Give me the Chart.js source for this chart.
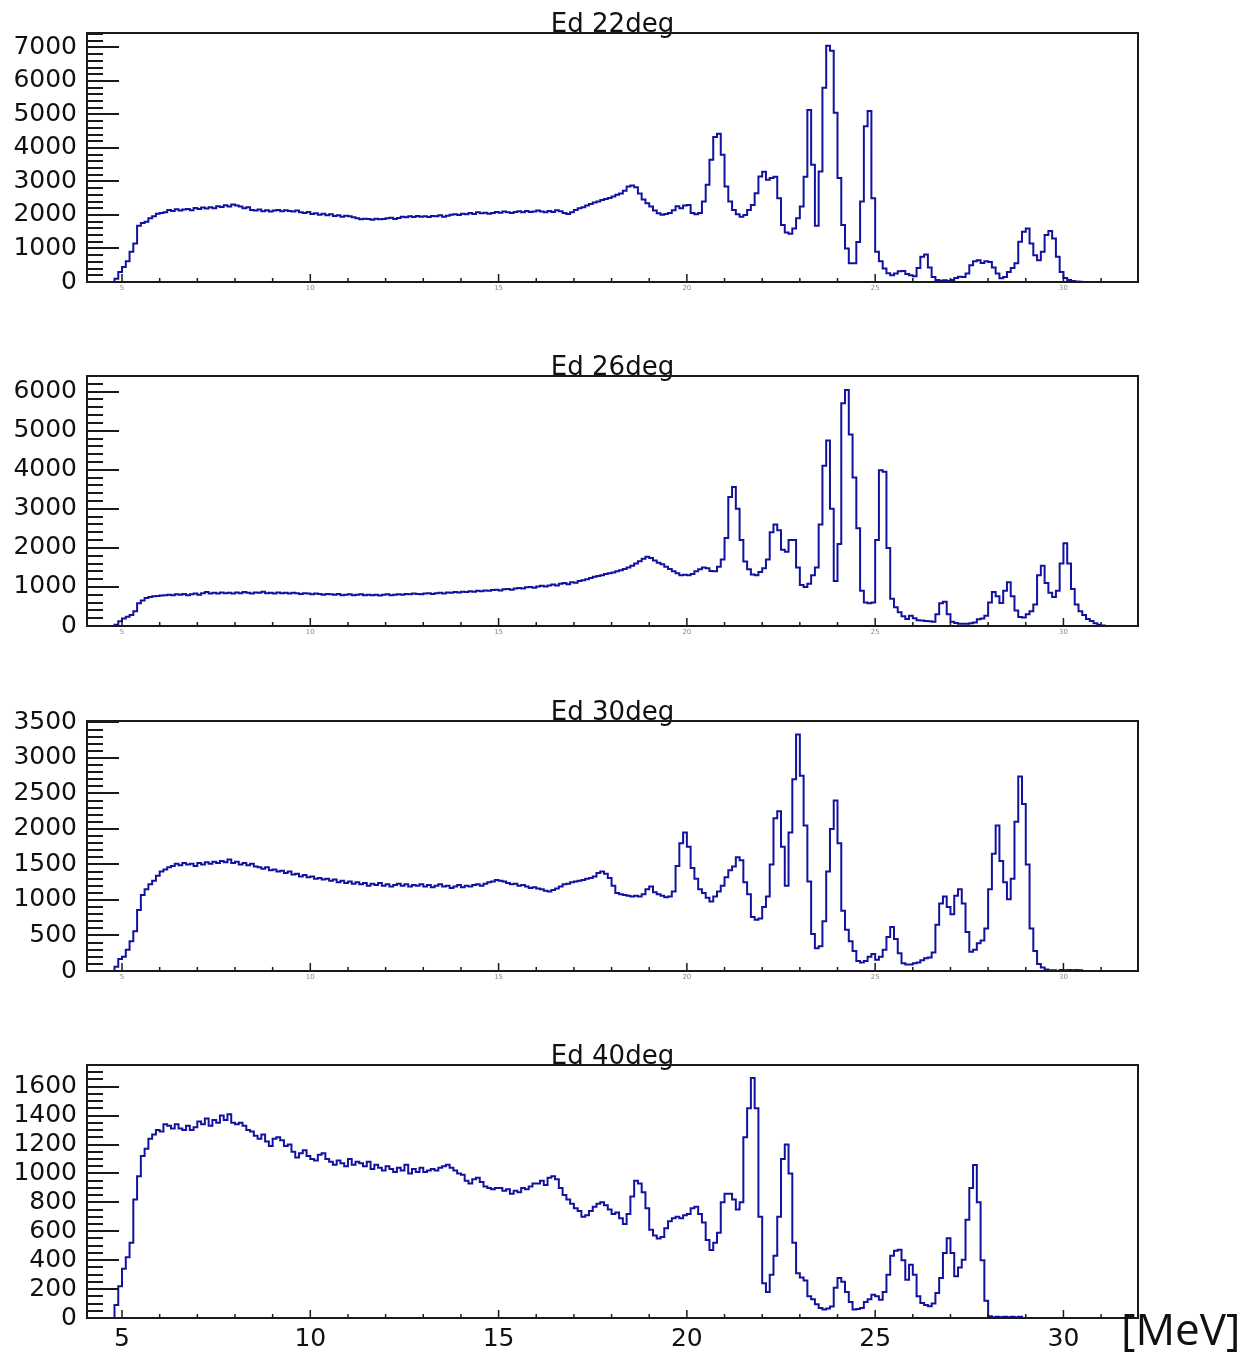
<!DOCTYPE html>
<html>
<head>
<meta charset="utf-8">
<script src="https://cdn.jsdelivr.net/npm/chart.js@4.4.1/dist/chart.umd.min.js"></script>
<style>
html, body { margin: 0; padding: 0; background: #ffffff; width: 1258px; height: 1356px; overflow: hidden; }
body { position: relative; }
canvas { position: absolute; left: 0; }
</style>
</head>
<body>
<canvas id="c22" width="1258" height="315" style="top:-8px"></canvas>
<canvas id="c26" width="1258" height="316" style="top:335px"></canvas>
<canvas id="c30" width="1258" height="316" style="top:680px"></canvas>
<canvas id="c40" width="1258" height="332" style="top:1024px"></canvas>
<script>
// ---------- DATA ----------
// Bin edges in MeV (bin i spans energyEdgesMeV[i] .. energyEdgesMeV[i+1])
const energyEdgesMeV = [
  4.7, 4.8, 4.9,
  5.0, 5.1, 5.2, 5.3, 5.4, 5.5, 5.6, 5.7, 5.8, 5.9,
  6.0, 6.1, 6.2, 6.3, 6.4, 6.5, 6.6, 6.7, 6.8, 6.9,
  7.0, 7.1, 7.2, 7.3, 7.4, 7.5, 7.6, 7.7, 7.8, 7.9,
  8.0, 8.1, 8.2, 8.3, 8.4, 8.5, 8.6, 8.7, 8.8, 8.9,
  9.0, 9.1, 9.2, 9.3, 9.4, 9.5, 9.6, 9.7, 9.8, 9.9,
  10.0, 10.1, 10.2, 10.3, 10.4, 10.5, 10.6, 10.7, 10.8, 10.9,
  11.0, 11.1, 11.2, 11.3, 11.4, 11.5, 11.6, 11.7, 11.8, 11.9,
  12.0, 12.1, 12.2, 12.3, 12.4, 12.5, 12.6, 12.7, 12.8, 12.9,
  13.0, 13.1, 13.2, 13.3, 13.4, 13.5, 13.6, 13.7, 13.8, 13.9,
  14.0, 14.1, 14.2, 14.3, 14.4, 14.5, 14.6, 14.7, 14.8, 14.9,
  15.0, 15.1, 15.2, 15.3, 15.4, 15.5, 15.6, 15.7, 15.8, 15.9,
  16.0, 16.1, 16.2, 16.3, 16.4, 16.5, 16.6, 16.7, 16.8, 16.9,
  17.0, 17.1, 17.2, 17.3, 17.4, 17.5, 17.6, 17.7, 17.8, 17.9,
  18.0, 18.1, 18.2, 18.3, 18.4, 18.5, 18.6, 18.7, 18.8, 18.9,
  19.0, 19.1, 19.2, 19.3, 19.4, 19.5, 19.6, 19.7, 19.8, 19.9,
  20.0, 20.1, 20.2, 20.3, 20.4, 20.5, 20.6, 20.7, 20.8, 20.9,
  21.0, 21.1, 21.2, 21.3, 21.4, 21.5, 21.6, 21.7, 21.8, 21.9,
  22.0, 22.1, 22.2, 22.3, 22.4, 22.5, 22.6, 22.7, 22.8, 22.9,
  23.0, 23.1, 23.2, 23.3, 23.4, 23.5, 23.6, 23.7, 23.8, 23.9,
  24.0, 24.1, 24.2, 24.3, 24.4, 24.5, 24.6, 24.7, 24.8, 24.9,
  25.0, 25.1, 25.2, 25.3, 25.4, 25.5, 25.6, 25.7, 25.8, 25.9,
  26.0, 26.1, 26.2, 26.3, 26.4, 26.5, 26.6, 26.7, 26.8, 26.9,
  27.0, 27.1, 27.2, 27.3, 27.4, 27.5, 27.6, 27.7, 27.8, 27.9,
  28.0, 28.1, 28.2, 28.3, 28.4, 28.5, 28.6, 28.7, 28.8, 28.9,
  29.0, 29.1, 29.2, 29.3, 29.4, 29.5, 29.6, 29.7, 29.8, 29.9,
  30.0, 30.1, 30.2, 30.3, 30.4, 30.5, 30.6, 30.7, 30.8, 30.9,
  31.0, 31.1, 31.2, 31.3
];

const countsEd22 = [
  0, 100, 300,
  450, 620, 900, 1150, 1680, 1760, 1800, 1900, 1960, 2040,
  2060, 2080, 2150, 2120, 2170, 2130, 2160, 2180, 2140, 2210,
  2180, 2220, 2190, 2230, 2200, 2260, 2240, 2290, 2250, 2310,
  2280, 2250, 2200, 2230, 2150, 2130, 2160, 2110, 2140, 2100,
  2130, 2150, 2110, 2140, 2120, 2100, 2130, 2080, 2060, 2090,
  2030, 2050, 2010, 2040, 1990, 2020, 1970, 1990, 1950, 1980,
  1960, 1930, 1900, 1870, 1890, 1880, 1860, 1890, 1870, 1880,
  1900, 1920, 1880, 1910, 1950, 1930, 1960, 1940, 1970, 1950,
  1960, 1940, 1970, 1960, 1990, 1950, 1980, 2010, 2020, 2000,
  2040, 2020, 2060, 2030, 2080, 2050, 2070, 2040, 2060, 2090,
  2070, 2100, 2080, 2060, 2090, 2110, 2080, 2120, 2090, 2100,
  2130, 2100, 2080, 2120, 2090, 2140, 2110, 2060, 2030, 2080,
  2150, 2200, 2230, 2280, 2330, 2370, 2400, 2450, 2480, 2510,
  2550, 2600, 2640, 2720, 2850, 2880, 2830, 2640, 2460, 2350,
  2250, 2130, 2050, 2010, 2030, 2060, 2140, 2260, 2200, 2280,
  2300, 2060, 2020, 2060, 2400, 2900, 3650, 4330, 4420, 3800,
  2850, 2400, 2150, 2020, 1950, 2000, 2150, 2300, 2650, 3150,
  3290, 3050, 3100, 3140, 2500, 1700, 1480, 1440, 1600, 1900,
  2250, 3140, 5130, 3500, 1680, 3300, 5800, 7050, 6900, 5050,
  3100, 1700, 1000, 560, 560, 1190, 2400, 4650, 5100, 2500,
  900, 620, 400, 260, 200, 250, 320, 330, 240, 200,
  170, 420, 750, 820, 430, 150, 60, 40, 50, 30,
  60, 120, 160, 150, 250, 500, 620, 650, 570, 620,
  600, 430, 250, 110, 150, 300, 420, 560, 1200, 1500,
  1600, 1150, 800, 650, 900, 1400, 1520, 1300, 750, 300,
  120, 60, 30, 15, 5, 0, 0, 0, 0, 0,
  0, 0, 0
];

const countsEd26 = [
  0, 30, 120,
  190, 240, 280, 380, 580, 650, 720, 740, 760, 770,
  780, 790, 800, 790, 810, 800, 820, 790, 810, 830,
  800, 840, 870, 830, 850, 830, 860, 840, 850, 830,
  860, 840, 870, 850, 830, 860, 850, 880, 840, 850,
  830, 860, 840, 850, 830, 850, 840, 820, 840, 830,
  810, 830, 820, 800, 820, 810, 800, 820, 790, 800,
  810, 790, 800, 810, 790, 800, 790, 800, 780, 800,
  810, 790, 800, 810, 800, 820, 810, 830, 820, 810,
  830, 840, 820, 840, 850, 830, 860, 850, 870, 860,
  880, 870, 890, 880, 900, 890, 910, 900, 920, 930,
  910, 940, 950, 930, 960, 970, 960, 990, 1000, 980,
  1010, 1030, 1010, 1040, 1060, 1040, 1080, 1100, 1070, 1120,
  1110, 1150, 1170, 1200, 1230, 1260, 1280, 1300, 1330, 1350,
  1370, 1400, 1430, 1460, 1500, 1540, 1600, 1660, 1720, 1770,
  1740, 1680, 1620, 1580, 1520, 1460, 1400, 1350, 1300, 1310,
  1300, 1330, 1400, 1450, 1500, 1480, 1410, 1400, 1520, 1700,
  2250, 3300, 3560, 3000, 2200, 1650, 1450, 1320, 1300, 1380,
  1480, 1700, 2400, 2600, 2450, 1950, 1900, 2200, 2200, 1500,
  1050, 1000, 1080, 1300, 1500, 2600, 4100, 4750, 3000, 1150,
  2100, 5700, 6040, 4900, 3800, 2500, 900, 600, 580, 600,
  2200, 3990, 3950, 2000, 700, 480, 350, 250, 180, 260,
  200, 150, 140, 130, 120, 110, 300, 580, 620, 300,
  110, 80, 60, 60, 60, 70, 90, 170, 190, 260,
  600, 870, 760, 590, 900, 1120, 760, 400, 230, 220,
  300, 380, 550, 1300, 1540, 1100, 850, 740, 900, 1600,
  2120, 1600, 950, 550, 380, 280, 180, 130, 70, 30,
  10, 0, 0
];

const countsEd30 = [
  0, 60, 170,
  200, 300, 420, 560, 860, 1070, 1150, 1220, 1270, 1340,
  1400, 1430, 1460, 1480, 1510, 1490, 1520, 1500, 1510, 1480,
  1520, 1500, 1530, 1510, 1540, 1520, 1550, 1530, 1570, 1520,
  1540, 1500, 1520, 1490, 1510, 1470, 1460, 1440, 1460, 1420,
  1430, 1400, 1410, 1380, 1400, 1360, 1370, 1330, 1350, 1320,
  1330, 1300, 1310, 1290, 1300, 1270, 1290, 1250, 1270, 1240,
  1260, 1230, 1250, 1220, 1240, 1200, 1230, 1210, 1240, 1200,
  1220, 1190, 1210, 1230, 1200, 1220, 1190, 1210, 1200, 1220,
  1190, 1210, 1180, 1200, 1220, 1190, 1200, 1170, 1190, 1210,
  1180, 1200, 1190, 1210, 1220, 1200, 1230, 1250, 1260, 1280,
  1270, 1260, 1240, 1220, 1230, 1200, 1210, 1190, 1170, 1180,
  1160, 1150, 1130, 1120, 1140, 1160, 1190, 1220, 1230, 1250,
  1260, 1270, 1280, 1300, 1310, 1330, 1380, 1400, 1370, 1310,
  1200, 1100, 1080, 1070, 1060, 1050, 1060, 1050, 1080, 1150,
  1190, 1110, 1080, 1060, 1040, 1050, 1120, 1480, 1800, 1950,
  1750, 1450, 1300, 1150, 1100, 1030, 980, 1050, 1120, 1200,
  1320, 1420, 1470, 1600, 1560, 1250, 1080, 760, 720, 740,
  900, 1050, 1500, 2150, 2250, 1750, 1200, 1950, 2700, 3330,
  2750, 2050, 1260, 520, 320, 350, 700, 1400, 2000, 2400,
  1800, 850, 580, 420, 280, 140, 120, 140, 200, 240,
  160, 200, 300, 480, 620, 450, 250, 110, 90, 90,
  110, 120, 150, 180, 190, 260, 650, 950, 1050, 900,
  800, 1060, 1150, 950, 550, 270, 300, 390, 430, 600,
  1150, 1650, 2050, 1550, 1250, 1010, 1300, 2100, 2740, 2350,
  1500, 600, 280, 100, 50, 20, 10, 10, 0, 15,
  10, 15, 10, 15, 10, 0, 0, 0, 0, 0,
  0, 0, 0
];

const countsEd40 = [
  0, 90, 220,
  340, 420, 520, 820, 980, 1120, 1170, 1240, 1270, 1300,
  1290, 1340, 1330, 1310, 1340, 1310, 1300, 1330, 1300, 1320,
  1360, 1340, 1380, 1330, 1370, 1350, 1400, 1370, 1410, 1350,
  1340, 1350, 1330, 1300, 1290, 1260, 1240, 1270, 1220, 1190,
  1240, 1250, 1230, 1190, 1200, 1150, 1110, 1140, 1160, 1120,
  1100, 1090, 1130, 1140, 1100, 1080, 1060, 1090, 1070, 1050,
  1100, 1060, 1080, 1070, 1050, 1080, 1030, 1060, 1040, 1020,
  1050, 1030, 1010, 1040, 1020, 1060, 1000, 1030, 1010, 1040,
  1010, 1020, 1030, 1020, 1040, 1050, 1060, 1040, 1020, 1000,
  990, 950, 930, 960, 970, 940, 910, 900, 890, 900,
  900, 880, 890, 860, 880, 870, 900, 890, 910, 930,
  930, 950, 920, 970, 980, 960, 900, 850, 820, 790,
  760, 740, 700, 710, 740, 770, 790, 800, 780, 750,
  720, 730, 690, 650, 720, 840, 950, 930, 870, 760,
  610, 570, 550, 560, 620, 670, 690, 700, 690, 710,
  720, 760, 770, 720, 660, 540, 470, 520, 590, 800,
  860, 860, 820, 750, 800, 1250, 1450, 1660, 1450, 700,
  240, 180, 300, 430, 700, 1100, 1200, 1000, 520, 310,
  280, 260, 150, 130, 95, 70, 58, 65, 80, 210,
  276, 250, 180, 110, 58, 62, 70, 110, 130, 160,
  150, 127, 180, 300, 430, 465, 472, 400, 265, 368,
  300, 150, 104, 90, 81, 100, 173, 276, 450, 552,
  449, 288, 350, 403, 679, 900, 1059, 800, 400, 120,
  12, 5, 8, 5, 8, 5, 8, 5, 8, 0,
  0, 0, 0, 0, 0, 0, 0, 0, 0, 0,
  0, 0, 0, 0, 0, 0, 0, 0, 0, 0,
  0, 0, 0
];

const panelTitles = ['Ed 22deg', 'Ed 26deg', 'Ed 30deg', 'Ed 40deg'];
const yTicksEd22 = [0, 1000, 2000, 3000, 4000, 5000, 6000, 7000];
const yTicksEd26 = [0, 1000, 2000, 3000, 4000, 5000, 6000];
const yTicksEd30 = [0, 500, 1000, 1500, 2000, 2500, 3000, 3500];
const yTicksEd40 = [0, 200, 400, 600, 800, 1000, 1200, 1400, 1600];
const xTickValues = [5, 10, 15, 20, 25, 30];
const xUnitLabel = '[MeV]';

// ---------- DRAWING ----------
const ROOT_FONT = 'DejaVu Sans';
const LINE_COLOR = '#1212a0';

function histPoints(counts) {
  const pts = counts.map((c, i) => ({ x: energyEdgesMeV[i], y: c }));
  const last = counts.length;
  pts.push({ x: energyEdgesMeV[last], y: counts[last - 1] });
  return pts;
}

function framePlugin(cfg) {
  return {
    id: 'rootFrame' + cfg.id,
    afterDraw(chart) {
      const ctx = chart.ctx;
      const a = chart.chartArea;
      const xs = chart.scales.x;
      const ys = chart.scales.y;
      ctx.save();
      ctx.strokeStyle = '#1a1a1a';
      // y-axis ticks (inside the frame, ROOT style)
      ctx.lineWidth = 2;
      ctx.beginPath();
      const nMinor = Math.floor(ys.max / cfg.yMinor + 1e-6);
      for (let k = 0; k <= nMinor; k++) {
        const v = k * cfg.yMinor;
        const y = Math.round(ys.getPixelForValue(v));
        const isMajor = Math.abs(v / cfg.yMajor - Math.round(v / cfg.yMajor)) < 1e-6;
        ctx.moveTo(a.left, y);
        ctx.lineTo(a.left + (isMajor ? 32 : 16), y);
      }
      ctx.stroke();
      // x-axis ticks
      ctx.lineWidth = 1.5;
      ctx.beginPath();
      for (let e = Math.ceil(xs.min); e <= xs.max; e += 1) {
        const x = xs.getPixelForValue(e);
        const len = (e % 5 === 0) ? 8 : 4;
        ctx.moveTo(x, a.bottom);
        ctx.lineTo(x, a.bottom - len);
      }
      ctx.stroke();
      // frame
      ctx.lineWidth = 2;
      ctx.strokeRect(a.left, a.top, a.right - a.left, a.bottom - a.top);
      if (cfg.unit) {
        ctx.fillStyle = '#111111';
        ctx.font = '44px "Open Sans"';
        ctx.textAlign = 'left';
        ctx.textBaseline = 'alphabetic';
        ctx.fillText(cfg.unit, 1121, 321);
      }
      ctx.restore();
    }
  };
}

function makePanel(canvasId, title, counts, yMax, yTicks, yMajor, yMinor, bigX, xAxisHeight, unit) {
  const el = document.getElementById(canvasId);
  return new Chart(el, {
    type: 'line',
    data: {
      datasets: [{
        data: histPoints(counts),
        borderColor: LINE_COLOR,
        borderWidth: 2,
        pointRadius: 0,
        stepped: 'before',
        fill: false,
        tension: 0
      }]
    },
    options: {
      responsive: false,
      animation: false,
      events: [],
      layout: { padding: { left: 0, right: 120, top: 0, bottom: 0 } },
      plugins: {
        legend: { display: false },
        tooltip: { enabled: false },
        title: {
          display: true,
          text: title,
          fullSize: false,
          color: '#111111',
          font: { family: ROOT_FONT, size: 26, weight: 'normal', lineHeight: 1 },
          padding: { top: 20, bottom: -5 }
        }
      },
      scales: {
        x: {
          type: 'linear',
          min: 4.07,
          max: 31.98,
          grid: { display: false, drawTicks: false },
          border: { display: false },
          afterBuildTicks: (s) => { s.ticks = xTickValues.map(v => ({ value: v })); },
          afterFit: (s) => { s.height = xAxisHeight; },
          ticks: {
            autoSkip: false,
            maxRotation: 0,
            padding: bigX ? 6 : 2,
            color: bigX ? '#111111' : '#8a8a8a',
            font: { family: ROOT_FONT, size: bigX ? 25 : 7 },
            callback: (v) => String(v)
          }
        },
        y: {
          type: 'linear',
          min: 0,
          max: yMax,
          grid: { display: false, drawTicks: false },
          border: { display: false },
          afterBuildTicks: (s) => { s.ticks = yTicks.map(v => ({ value: v })); },
          afterFit: (s) => { s.width = 87; },
          ticks: {
            autoSkip: false,
            padding: 10,
            color: '#111111',
            font: { family: ROOT_FONT, size: 25 },
            callback: (v) => String(v)
          }
        }
      }
    },
    plugins: [framePlugin({ id: canvasId, yMajor, yMinor, unit })]
  });
}

makePanel('c22', panelTitles[0], countsEd22, 7430, yTicksEd22, 1000, 200, false, 20, null);
makePanel('c26', panelTitles[1], countsEd26, 6400, yTicksEd26, 1000, 200, false, 20, null);
makePanel('c30', panelTitles[2], countsEd30, 3520, yTicksEd30, 500, 100, false, 20, null);
makePanel('c40', panelTitles[3], countsEd40, 1750, yTicksEd40, 200, 50, true, 38, xUnitLabel);
</script>
</body>
</html>
